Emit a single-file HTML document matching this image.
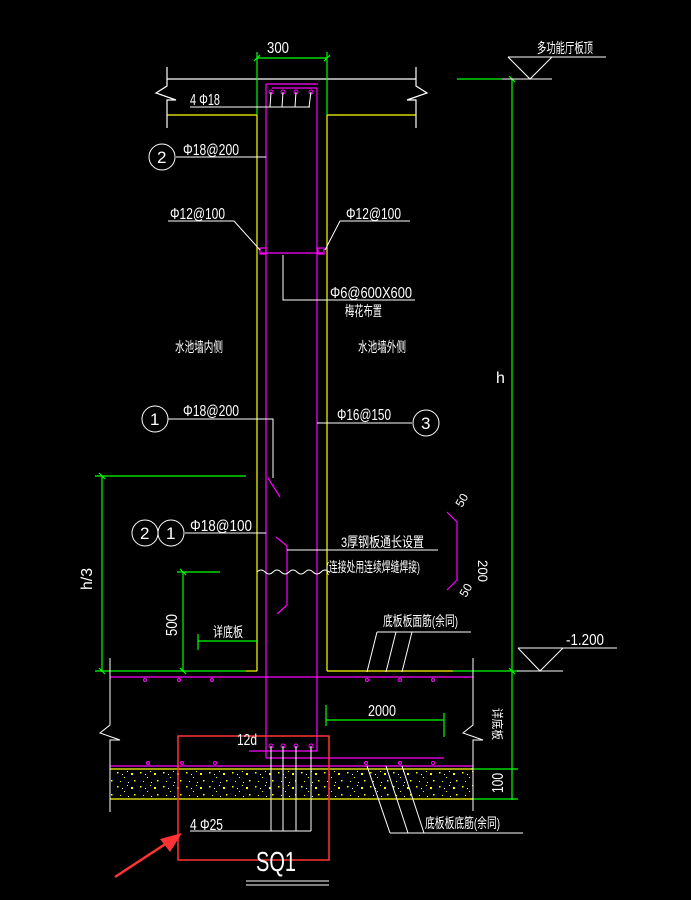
<!DOCTYPE html>
<html><head><meta charset="utf-8"><style>
html,body{margin:0;padding:0;background:#000;}
svg{display:block}
text{font-family:"Liberation Sans","Noto Sans CJK SC",sans-serif;fill:#fff;}
</style></head><body>
<svg width="691" height="900" viewBox="0 0 691 900" xmlns="http://www.w3.org/2000/svg">
<defs>
<pattern id="dots" width="23" height="14" patternUnits="userSpaceOnUse">
<rect x="2" y="2" width="1.5" height="1.5" fill="#ff0"/><rect x="9" y="7" width="1" height="1" fill="#ff0"/><rect x="16" y="3" width="2" height="2" fill="#ff0"/><rect x="5" y="11" width="1" height="1" fill="#ff0"/><rect x="19" y="10" width="1.5" height="1.5" fill="#ff0"/><rect x="12" y="1" width="1" height="1" fill="#ff0"/><rect x="13" y="12" width="1" height="1" fill="#fff"/><rect x="7" y="4" width="1" height="1" fill="#fff"/>
</pattern>
</defs>
<g fill="none" stroke-width="1.2">
<g stroke="#fff">
<line x1="167" y1="79" x2="416" y2="79"/>
<polyline points="167,67 167,86 156,93 176,100 167,100 167,128"/>
<polyline points="416,67 416,86 427,93 407,100 416,100 416,128"/>
</g>
<g stroke="#ff0">
<line x1="167" y1="115" x2="257" y2="115"/>
<line x1="327" y1="115" x2="416" y2="115"/>
<line x1="257" y1="115" x2="257" y2="671"/>
<line x1="327" y1="115" x2="327" y2="671"/>
<line x1="246" y1="671" x2="257" y2="671"/>
<line x1="327" y1="671" x2="453" y2="671"/>
</g>
<g stroke="#0f0">
<line x1="257" y1="58" x2="327" y2="58"/><line x1="257" y1="52" x2="257" y2="115"/><line x1="327" y1="52" x2="327" y2="115"/>
<line x1="254" y1="61" x2="260" y2="55"/><line x1="324" y1="61" x2="330" y2="55"/>
<line x1="102" y1="476" x2="102" y2="672"/><line x1="95" y1="476" x2="246" y2="476"/>
<line x1="99" y1="473" x2="105" y2="479"/><line x1="99" y1="668" x2="105" y2="674"/>
<line x1="183" y1="572" x2="183" y2="672"/><line x1="177" y1="572" x2="220" y2="572"/>
<line x1="180" y1="569" x2="186" y2="575"/><line x1="180" y1="668" x2="186" y2="674"/>
<line x1="198" y1="641" x2="257" y2="641"/><line x1="198" y1="634" x2="198" y2="650"/>
<line x1="95" y1="671" x2="246" y2="671"/><line x1="453" y1="671" x2="518" y2="671"/>
<line x1="326" y1="720" x2="444" y2="720"/><line x1="326" y1="705" x2="326" y2="726"/><line x1="444" y1="713" x2="444" y2="737"/>
<line x1="512" y1="79" x2="512" y2="800"/><line x1="457" y1="79" x2="502" y2="79"/>
<line x1="509" y1="76" x2="515" y2="82"/><line x1="509" y1="668" x2="515" y2="674"/>
<line x1="470" y1="769" x2="518" y2="769"/><line x1="470" y1="799" x2="518" y2="799"/>
</g>
<g stroke="#f0f">
<line x1="266" y1="84" x2="266" y2="758"/><line x1="266" y1="84" x2="318" y2="84"/>
<line x1="272" y1="88" x2="317" y2="88"/><line x1="317" y1="88" x2="317" y2="751"/>
<line x1="266" y1="758" x2="444" y2="758"/><line x1="249" y1="751" x2="317" y2="751"/>
<line x1="260" y1="253" x2="323" y2="253"/>
<rect x="260" y="248" width="6" height="6"/><rect x="318" y="248" width="6" height="6"/>
<line x1="268" y1="478" x2="280" y2="497"/>
<polyline points="276,537 287,546 287,605 277,614"/>
<polyline points="447,512 457,522 457,580 447,590"/>
<line x1="110" y1="677" x2="473" y2="677"/>
<line x1="110" y1="766" x2="473" y2="766"/>
<g stroke-width="1">
<circle cx="271" cy="92" r="2"/><circle cx="283" cy="92" r="2"/><circle cx="296" cy="92" r="2"/><circle cx="311" cy="92" r="2"/>
<circle cx="271" cy="746" r="2"/><circle cx="283" cy="746" r="2"/><circle cx="296" cy="746" r="2"/><circle cx="311" cy="746" r="2"/>
<circle cx="145" cy="680" r="1.5"/><circle cx="179" cy="680" r="1.5"/><circle cx="212" cy="680" r="1.5"/><circle cx="367" cy="680" r="1.5"/><circle cx="400" cy="680" r="1.5"/><circle cx="433" cy="680" r="1.5"/>
<circle cx="148" cy="763" r="1.5"/><circle cx="182" cy="763" r="1.5"/><circle cx="215" cy="763" r="1.5"/><circle cx="366" cy="763" r="1.5"/><circle cx="400" cy="763" r="1.5"/><circle cx="433" cy="763" r="1.5"/>
</g>
</g>
<rect x="110" y="769" width="363" height="30" fill="url(#dots)" stroke="none"/>
<g stroke="#ff0"><line x1="110" y1="769" x2="473" y2="769"/><line x1="110" y1="799" x2="473" y2="799"/></g>
<g stroke="#fff" stroke-width="1">
<polyline points="271,92 270,107"/><polyline points="283,92 282,107"/><polyline points="296,92 295,107"/><polyline points="311,92 309,107"/>
<line x1="190" y1="107" x2="310" y2="107"/>
<line x1="176" y1="157" x2="266" y2="157"/><circle cx="162" cy="157" r="13"/>
<polyline points="168,221 234,221 260,250"/><polyline points="410,221 340,221 325,250"/>
<polyline points="283,255 283,300 415,300"/>
<polyline points="168,419 273,419 273,478"/><circle cx="155" cy="419" r="13"/>
<line x1="317" y1="423" x2="412" y2="423"/><circle cx="426" cy="423" r="13"/>
<circle cx="145" cy="533" r="13"/><circle cx="171" cy="533" r="13"/><line x1="185" y1="533" x2="266" y2="533"/>
<line x1="287" y1="550" x2="438" y2="550"/>
<path d="M257,572 q4,-4 8,0 t8,0 t8,0 t8,0 t8,0 t8,0 t8,0 t8,0 t8,0"/>
<polyline points="110,658 110,725 100,733 120,740 110,740 110,812"/>
<polyline points="473,658 473,725 463,733 483,740 473,740 473,811"/>
<polyline points="271,746 271,831"/><polyline points="283,746 283,831"/><polyline points="296,746 296,831"/><polyline points="311,746 311,831"/>
<line x1="190" y1="831" x2="311" y2="831"/>
<polyline points="377,632 367,672"/><polyline points="396,632 386,672"/><polyline points="412,632 402,672"/><line x1="377" y1="632" x2="471" y2="632"/>
<polyline points="367,766 390,833"/><polyline points="386,766 408,833"/><polyline points="402,766 424,833"/><line x1="390" y1="833" x2="523" y2="833"/>
<line x1="508" y1="57" x2="606" y2="57"/><polyline points="508,57 530,79 552,57"/><line x1="502" y1="79" x2="552" y2="79"/>
<line x1="518" y1="648" x2="617" y2="648"/><polyline points="518,648 540,671 563,648"/><line x1="517" y1="671" x2="563" y2="671"/>
<line x1="246" y1="881" x2="329" y2="881"/><line x1="246" y1="885" x2="329" y2="885"/>
</g>
<rect x="178" y="736" width="151" height="124" stroke="#f33" stroke-width="1.5"/>
</g>
<line x1="115" y1="877" x2="170" y2="841" stroke="#f33" stroke-width="2.5"/>
<polygon points="182,833 160,839 170,852" fill="#f33"/>
<g font-size="16">
<text x="267" y="53" textLength="22" lengthAdjust="spacingAndGlyphs">300</text>
<text x="190" y="105" textLength="30" lengthAdjust="spacingAndGlyphs">4 Φ18</text>
<text x="157" y="163" font-size="17">2</text>
<text x="183" y="155" textLength="56" lengthAdjust="spacingAndGlyphs">Φ18@200</text>
<text x="170" y="219" textLength="55" lengthAdjust="spacingAndGlyphs">Φ12@100</text>
<text x="346" y="219" textLength="55" lengthAdjust="spacingAndGlyphs">Φ12@100</text>
<text x="330" y="298" textLength="82" lengthAdjust="spacingAndGlyphs">Φ6@600X600</text>
<text x="345" y="316" font-size="14" textLength="37" lengthAdjust="spacingAndGlyphs">梅花布置</text>
<text x="175" y="352" font-size="14" textLength="48" lengthAdjust="spacingAndGlyphs">水池墙内侧</text>
<text x="358" y="352" font-size="14" textLength="48" lengthAdjust="spacingAndGlyphs">水池墙外侧</text>
<text x="150" y="425" font-size="17">1</text>
<text x="183" y="416" textLength="56" lengthAdjust="spacingAndGlyphs">Φ18@200</text>
<text x="337" y="420" textLength="54" lengthAdjust="spacingAndGlyphs">Φ16@150</text>
<text x="421" y="429" font-size="17">3</text>
<text x="140" y="539" font-size="17">2</text><text x="166" y="539" font-size="17">1</text>
<text x="190" y="531" textLength="62" lengthAdjust="spacingAndGlyphs">Φ18@100</text>
<text x="341" y="547" font-size="14" textLength="83" lengthAdjust="spacingAndGlyphs">3厚钢板通长设置</text>
<text x="326" y="572" font-size="14" textLength="94" lengthAdjust="spacingAndGlyphs">(连接处用连续焊缝焊接)</text>
<text x="213" y="637" font-size="14" textLength="30" lengthAdjust="spacingAndGlyphs">详底板</text>
<text x="383" y="626" font-size="14" textLength="75" lengthAdjust="spacingAndGlyphs">底板板面筋(余同)</text>
<text x="537" y="53" font-size="14" textLength="56" lengthAdjust="spacingAndGlyphs">多功能厅板顶</text>
<text x="566" y="645" textLength="38" lengthAdjust="spacingAndGlyphs">-1.200</text>
<text x="368" y="716" textLength="28" lengthAdjust="spacingAndGlyphs">2000</text>
<text x="237" y="745" textLength="20" lengthAdjust="spacingAndGlyphs">12d</text>
<text x="190" y="830" textLength="33" lengthAdjust="spacingAndGlyphs">4 Φ25</text>
<text x="425" y="828" font-size="14" textLength="75" lengthAdjust="spacingAndGlyphs">底板板底筋(余同)</text>
<text x="256" y="871" font-size="28" textLength="40" lengthAdjust="spacingAndGlyphs">SQ1</text>
<text transform="translate(92,590) rotate(-90)" textLength="22" lengthAdjust="spacingAndGlyphs">h/3</text>
<text transform="translate(177,636) rotate(-90)" textLength="22" lengthAdjust="spacingAndGlyphs">500</text>
<text x="496" y="383">h</text>
<text transform="translate(503,793) rotate(-90)" textLength="20" lengthAdjust="spacingAndGlyphs">100</text>
<text transform="translate(493,708) rotate(90)" font-size="12" textLength="32" lengthAdjust="spacingAndGlyphs">详底板</text>
<text transform="translate(462,508) rotate(-60)" font-size="12">50</text>
<text transform="translate(478,560) rotate(90)" font-size="14" textLength="22" lengthAdjust="spacingAndGlyphs">200</text>
<text transform="translate(466,598) rotate(-60)" font-size="12">50</text>
</g>
</svg>
</body></html>
